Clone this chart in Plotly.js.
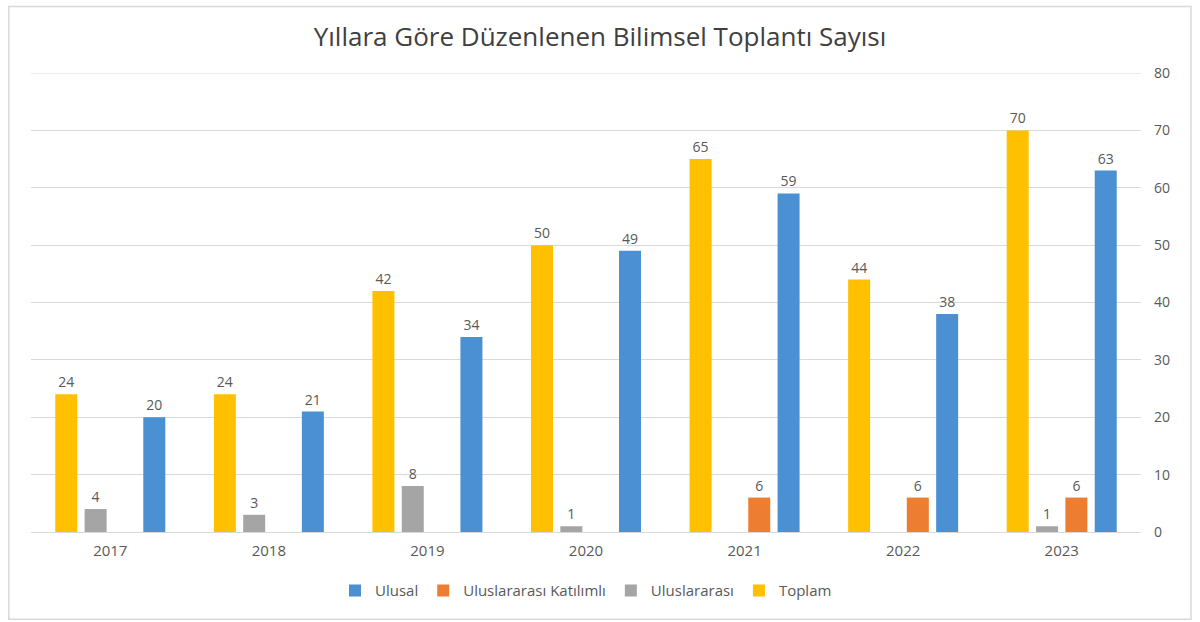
<!DOCTYPE html>
<html>
<head>
<meta charset="utf-8">
<script src="https://cdn.plot.ly/plotly-3.0.1.min.js"></script>
<style>
  html, body { margin: 0; padding: 0; background: #fff; }
  #chart { width: 1200px; height: 622px; }
</style>
</head>
<body>
<div id="chart"></div>
<script>
const years = ['2017', '2018', '2019', '2020', '2021', '2022', '2023'];
const toplam = [24, 24, 42, 50, 65, 44, 70];
const uluslararasi = [4, 3, 8, 1, null, null, 1];
const katilimli = [null, null, null, null, 6, 6, 6];
const ulusal = [20, 21, 34, 49, 59, 38, 63];

const labelFont = { family: 'Open Sans, sans-serif', size: 14, color: '#595959' };

function barTrace(name, values, color) {
    return {
        type: 'bar',
        name: name,
        x: years,
        y: values,
        marker: { color: color },
        text: values.map(v => v === null ? '' : String(v)),
        textposition: 'outside',
        cliponaxis: false,
        textfont: labelFont,
        hoverinfo: 'x+y+name'
    };
}

// bars drawn left to right in each year: Toplam, Uluslararası, Katılımlı, Ulusal
const traces = [
    barTrace('Toplam', toplam, '#FFC000'),
    barTrace('Uluslararası', uluslararasi, '#A5A5A5'),
    barTrace('Uluslararası Katılımlı', katilimli, '#ED7D31'),
    barTrace('Ulusal', ulusal, '#4A90D2')
];

const yMax = 80;

const layout = {
    width: 1200,
    height: 622,
    paper_bgcolor: '#ffffff',
    plot_bgcolor: '#ffffff',
    font: { family: 'Open Sans, sans-serif', color: '#595959' },
    title: {
        text: 'Yıllara Göre Düzenlenen Bilimsel Toplantı Sayısı',
        font: { family: 'Open Sans, sans-serif', size: 26, color: '#404040' },
        x: 0.5,
        xanchor: 'center',
        y: 0.94,
        yanchor: 'middle'
    },
    barmode: 'group',
    bargap: 0.26,
    bargroupgap: 0.25,
    margin: { l: 31, r: 59, t: 73, b: 90 },
    xaxis: {
        type: 'category',
        showgrid: false,
        showline: false,
        zeroline: false,
        ticks: '',
        tickfont: { size: 15, color: '#595959' },
        ticklabelstandoff: 8
    },
    yaxis: {
        side: 'right',
        range: [0, yMax],
        dtick: 10,
        showgrid: true,
        gridcolor: '#d9d9d9',
        gridwidth: 1,
        zeroline: true,
        zerolinecolor: '#d9d9d9',
        showline: false,
        ticks: '',
        tickfont: { size: 14, color: '#595959' },
        ticklabelstandoff: 12
    },
    legend: {
        orientation: 'h',
        x: 0.5,
        xanchor: 'center',
        y: -0.128,
        yanchor: 'middle',
        traceorder: 'reversed',
        font: { size: 15, color: '#595959' },
        itemwidth: 30
    },
    shapes: [{
        // top gridline, which plotly drops at the range edge
        type: 'line',
        xref: 'paper', yref: 'y',
        x0: 0, x1: 1, y0: yMax, y1: yMax,
        line: { color: '#d9d9d9', width: 1 },
        layer: 'below'
    }, {
        type: 'rect',
        xref: 'paper', yref: 'paper',
        x0: -0.02, x1: 1.045, y0: -0.19, y1: 1.145,
        line: { color: '#d9d9d9', width: 1.5 },
        fillcolor: 'rgba(0,0,0,0)',
        layer: 'below'
    }]
};

Plotly.newPlot('chart', traces, layout, { displayModeBar: false, staticPlot: true });
</script>
</body>
</html>
